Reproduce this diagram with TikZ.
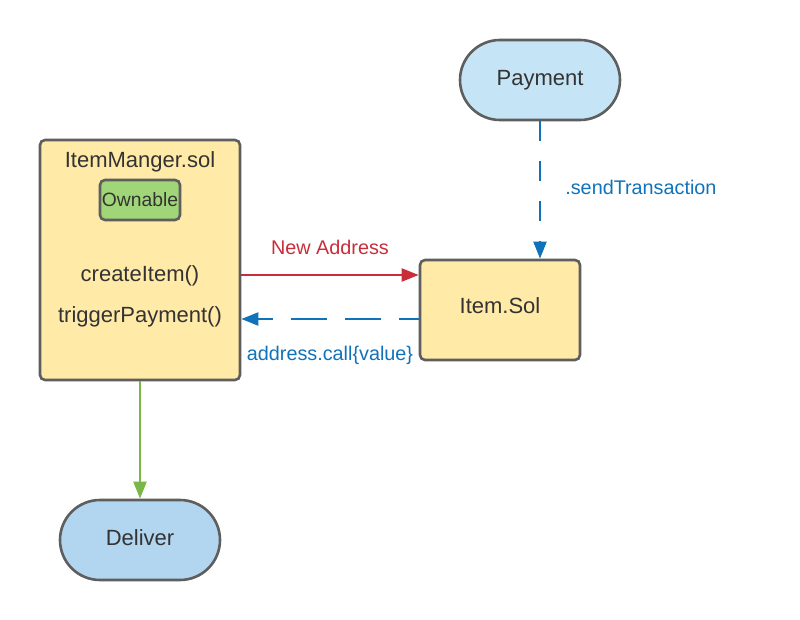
\documentclass[tikz,border=0pt]{standalone}
\usepackage{fontspec}
\setmainfont{Liberation Sans}
\usepackage{tikz}
\usetikzlibrary{arrows.meta}
\definecolor{boxyellow}{RGB}{255,234,167}
\definecolor{boxline}{RGB}{94,94,94}
\definecolor{payblue}{RGB}{197,228,246}
\definecolor{delblue}{RGB}{178,213,240}
\definecolor{owngreen}{RGB}{161,214,120}
\definecolor{txtgrey}{RGB}{51,51,51}
\definecolor{linered}{RGB}{201,45,57}
\definecolor{lineblue}{RGB}{16,114,186}
\definecolor{linegreen}{RGB}{122,182,72}

\begin{document}
\begin{tikzpicture}[x=1pt, y=-1pt,
        contract/.style={draw=boxline, line width=2.6pt, fill=boxyellow, rectangle, rounded corners=5pt, text=txtgrey},
        terminal/.style={draw=boxline, line width=2.6pt, rectangle, rounded corners=40pt, minimum width=160pt, minimum height=80pt, text=txtgrey, font=\fontsize{22}{24}\selectfont},
        label/.style={text=txtgrey, font=\fontsize{22}{24}\selectfont},
        flow/.style={line width=2pt, -{Triangle[length=17pt,width=13pt]}},
        flowtext/.style={font=\fontsize{19.8}{22}\selectfont}]
        \useasboundingbox (0,0) rectangle (800,620);
        \node[contract, minimum width=200pt, minimum height=240pt] (mgr) at (140, 260) {};
        \node[label] (mgrtitle) at (140, 162) {ItemManger.sol};
        \node[contract, fill=owngreen, minimum width=80pt, minimum height=40pt, inner sep=0pt, font=\fontsize{19.3}{22}\selectfont] (own) at (140, 200) {Ownable};
        \node[label] (create) at (140, 276) {createItem()};
        \node[label] (trigger) at (140, 317) {triggerPayment()};
        \node[contract, minimum width=160pt, minimum height=100pt, text depth=8pt, font=\fontsize{22}{24}\selectfont] (item) at (500, 310) {Item.Sol};
        \node[terminal, fill=payblue] (pay) at (540, 80) {Payment};
        \node[terminal, fill=delblue, text depth=4pt] (deliver) at (140, 540) {Deliver};
        % connectors
        \coordinate (redstart) at (mgr.east |- 0, 275);
        \coordinate (blueend) at (mgr.east |- 0, 319);
        \draw[flow, linered] (redstart) -- (item.west |- redstart) node[midway, above=16pt, flowtext] {New Address};
        \draw[flow, lineblue, dash pattern=on 36pt off 18pt, dash phase=16pt] (item.west |- blueend) -- (blueend) node[midway, below=23pt, flowtext] {address.call\{value\}};
        \draw[flow, lineblue, dash pattern=on 20pt off 20pt] (pay.south) -- (pay.south |- item.north) node[midway, right=21pt, yshift=3pt, flowtext] {.sendTransaction};
        \draw[flow, linegreen] (mgr.south) -- (deliver.north);
    \end{tikzpicture}
\end{document}
